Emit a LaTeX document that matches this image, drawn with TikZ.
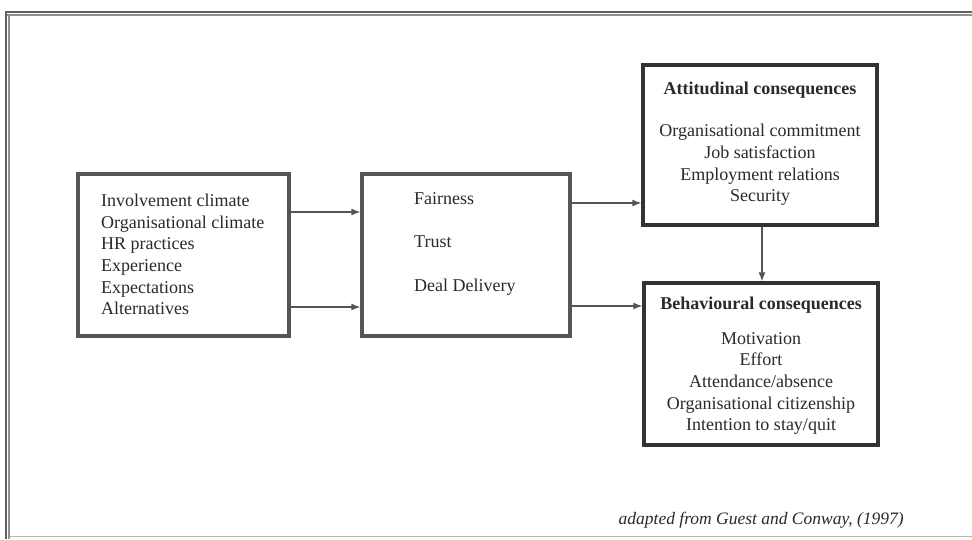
\documentclass[tikz,border=0pt]{standalone}
\usepackage{fontspec}
\setmainfont{Liberation Serif}
\usetikzlibrary{arrows.meta}
\definecolor{ink}{HTML}{2A2A2A}
\definecolor{boxline}{HTML}{333333}
\definecolor{softline}{HTML}{555555}
\definecolor{framegray}{HTML}{606060}
\begin{document}
\begin{tikzpicture}[x=1pt,y=-1pt,
  box/.style={draw=boxline, line width=3.2pt, inner sep=0pt, fill=white},
  softbox/.style={box, draw=softline},
  txt/.style={text=ink, font=\fontsize{18}{21.7}\selectfont, inner sep=0pt},
  head/.style={txt, font=\fontsize{18}{21.7}\selectfont\bfseries},
  arr/.style={draw=softline, line width=1.3pt, -{Latex[length=9pt,width=7pt]}},
  frameline/.style={draw=framegray, line width=1.3pt}]
\useasboundingbox (0,0) rectangle (972,539);
\fill[white] (0,0) rectangle (972,539);

% outer frame: double rule on top and left, faint rule at the bottom
\draw[frameline] (5,12) -- (972,12);
\draw[frameline, draw=framegray!70] (5,15) -- (972,15);
\draw[frameline] (6,12) -- (6,539);
\draw[frameline, draw=framegray!70] (9,15) -- (9,539);
\draw[draw=framegray!45, line width=0.8pt] (10,536) -- (972,536);

% boxes
\node[softbox, minimum width=211pt, minimum height=162pt] (inp) at (183.5,255) {};
\node[softbox, minimum width=208pt, minimum height=162pt] (mid) at (466,255) {};
\node[box, minimum width=234pt, minimum height=160pt] (att) at (760,145) {};
\node[box, minimum width=234pt, minimum height=162pt] (beh) at (761,364) {};

% antecedents
\node[txt, anchor=west, align=left] (inptext) at (101,254.5)
  {Involvement climate\\Organisational climate\\HR practices\\Experience\\Expectations\\Alternatives};

% psychological contract
\node[txt, anchor=west, align=left, font=\fontsize{18}{43.5}\selectfont] (midtext) at (414,243.5)
  {Fairness\\Trust\\Deal Delivery};

% attitudinal consequences
\node[head] (atttitle) at (760,90) {Attitudinal consequences};
\node[txt, align=center] (atttext) at (760,165)
  {Organisational commitment\\Job satisfaction\\Employment relations\\Security};

% behavioural consequences
\node[head] (behtitle) at (761,305) {Behavioural consequences};
\node[txt, align=center] (behtext) at (761,383.5)
  {Motivation\\Effort\\Attendance/absence\\Organisational citizenship\\Intention to stay/quit};

% connectors
\draw[arr] (inp.east |- 0,212) -- (mid.west |- 0,212);
\draw[arr] (inp.east |- 0,307) -- (mid.west |- 0,307);
\draw[arr] (mid.east |- 0,203) -- (att.west |- 0,203);
\draw[arr] (mid.east |- 0,306) -- (beh.west |- 0,306);
\draw[arr] (att.south -| 762,0) -- (beh.north -| 762,0);

% source note
\node[txt, anchor=east, font=\fontsize{17.5}{21}\selectfont\itshape] (source) at (904,520)
  {adapted from Guest and Conway, (1997)};
\end{tikzpicture}
\end{document}
